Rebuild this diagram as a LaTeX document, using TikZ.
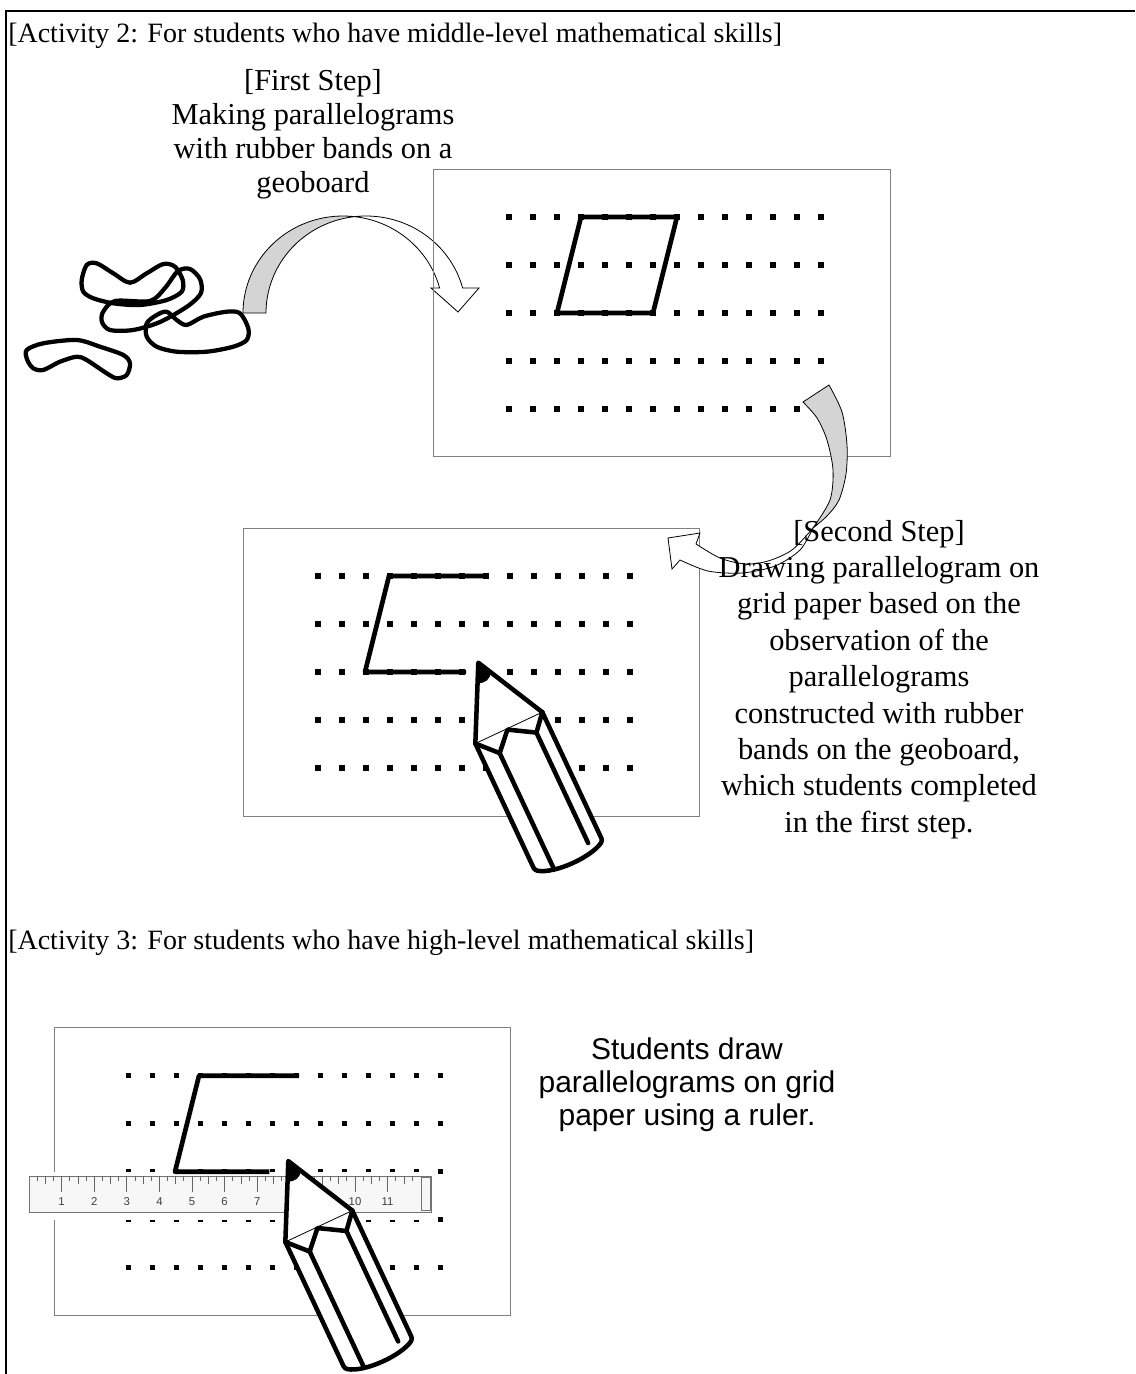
\documentclass[tikz,border=0pt]{standalone}
\usepackage{fontspec}
\setmainfont{Liberation Serif}
\newfontfamily\arialfont{Liberation Sans}
\newcommand\pencilat[3]{%
\begin{scope}[shift={(#1,#2)}, x={(0.318pt,-0.67875pt)}, y={(0.67875pt,0.318pt)}]
  \fill[white] (0,0) -- (72,37) -- (214,37) .. controls (224,20) and (224,-20) .. (212,-37) -- (72,-37) -- cycle;
  \draw[line width=0.6pt] (72,-37) -- (72,37);
  \draw[pthick] (72,-37) -- (0,0) -- (72,37);
  \fill (0,0) -- (18,-9.25) .. controls (22,-3) and (20,4) .. (14,7.2) -- cycle;
  \draw[pthick] (72,-37) -- (91,-19) -- (73,-2) -- (88,23) -- (72,37);
  \draw[pthick, rounded corners=2pt] (72,-37) -- (212,-37) .. controls (224,-20) and (224,20) .. (214,37) -- (72,37);
  \draw[pthick] (91,-19) -- (219,-19);
  \draw[pthick] (88,23) -- (210,23);
  \coordinate (#3) at (0,0);
\end{scope}}
\newcommand\dotgrid[2]{%
  \foreach \i in {0,...,13} \foreach \j in {0,...,4}
    \fill ({#1+24*\i-2.75},{#2+48*\j-2.75}) rectangle +(5.5,5.5);}
\begin{document}
\begin{tikzpicture}[x=0.75pt,y=-0.75pt,
  board/.style={draw=black!50, line width=1pt},
  band/.style={line width=3.2pt, line join=round},
  pthick/.style={line width=3.4pt, line join=round, line cap=round},
  drawn/.style={line width=3.5pt, line join=round},
  arrowback/.style={fill=black!17, draw=black, line width=0.6pt},
  arrowfront/.style={fill=white, draw=black, line width=0.6pt},
  htxt/.style={font=\fontsize{21}{25}\selectfont, inner sep=0pt},
  txt/.style={font=\fontsize{22.8}{26}\selectfont, inner sep=0pt},
  stxt/.style={font=\arialfont\fontsize{22.5}{26}\selectfont, inner sep=0pt},
  rnum/.style={font=\arialfont\fontsize{8.5}{9}\selectfont, inner sep=0pt, text=black!75},
]
\useasboundingbox (0,0) rectangle (1135,1374);
% frame
\draw[line width=2pt] (6,1374) -- (6,11) -- (1135,11);

% rubber bands
\draw[band] plot[smooth cycle] coordinates {(81.7,280) (86.7,265) (96.7,263.3) (113.3,273.3) (130,282.7) (146.7,273.3) (163.3,264) (175,266.7) (182.7,280) (181.7,291.7) (166.7,300) (140,305) (113.3,303.3) (93.3,298.3) (83.3,291.7)};
\draw[band] plot[smooth cycle] coordinates {(103,312) (115,301) (150,301) (165,288) (178,271) (190,269) (200,279) (201,293) (188,306) (160,322) (133,330) (110,330) (102,322)};
\draw[band] plot[smooth cycle] coordinates {(146.7,323.3) (156.7,315) (166.7,311.7) (176.7,320) (186.7,325) (203.3,316.7) (226.7,311.7) (240,313.3) (248.3,328.3) (246.7,340) (233.3,346.7) (206.7,351.7) (176.7,351.7) (156.7,346.7) (146.7,336.7)};
\draw[band] plot[smooth cycle] coordinates {(26.7,350) (43.3,343.3) (76.7,340) (100,346.7) (123.3,355) (130,363.3) (126.7,375) (116.7,378.3) (106.7,373.3) (86.7,360) (76.7,356.7) (60,361.7) (43.3,370) (33.3,368.3) (27.3,360)};

% arrow 1
\filldraw[arrowback] plot[domain=180:83.4, samples=40] ({343+100*cos(\x)},{313-97*sin(\x)})
  -- plot[domain=96.6:180, samples=40] ({366+100*cos(\x)},{313-97*sin(\x)}) -- cycle;
\filldraw[arrowfront] plot[domain=96.6:14.9, samples=40] ({366+100*cos(\x)},{313-97*sin(\x)})
  -- (479,288) -- (458,312) -- (431,288)
  -- plot[domain=14.9:83.4, samples=40] ({343+100*cos(\x)},{313-97*sin(\x)}) -- cycle;

% geoboard 1
\node[board, draw, minimum width=457*0.75pt, minimum height=287*0.75pt, anchor=north west, inner sep=0pt] (g1) at (433,169) {};
\dotgrid{509}{217}
\draw[drawn] (581,217) -- (677,217) -- (653,313) -- (557,313) -- cycle;

% geoboard 2
\node[board, draw, fill=white, minimum width=456*0.75pt, minimum height=288*0.75pt, anchor=north west, inner sep=0pt] (g2) at (243,528) {};
\dotgrid{318}{576}
\draw[drawn] (488,576) -- (389,576) -- (365,672) -- (466,672);
\pencilat{478.3}{662.7}{p1}

% arrow 2
\filldraw[arrowback] plot[smooth] coordinates {(803,402) (817,418) (827,440) (833,470) (830,500) (813,528)}
  -- plot[smooth] coordinates {(813,528) (827,516) (839,500) (846,474) (847,445) (842,412) (829,385)} -- cycle;
\filldraw[arrowfront] plot[smooth] coordinates {(813,528) (792,550) (768,561) (745,564) (720,558) (696,544)}
  -- (700,533) -- (668,538) -- (672,569) -- (680,560)
  -- plot[smooth] coordinates {(680,560) (708,571) (742,573) (775,566) (800,550) (813,528)} -- cycle;

% geoboard 3
\node[board, draw, minimum width=456*0.75pt, minimum height=288*0.75pt, anchor=north west, inner sep=0pt] (g3) at (54,1027) {};
\dotgrid{128.3}{1075.7}
% ruler
\fill[white] (24,1172) rectangle (433,1219.5);
\node[draw=black!55, fill=black!3, line width=0.8pt, minimum width=402*0.75pt, minimum height=36*0.75pt, anchor=north west, inner sep=0pt] (ruler) at (29,1176) {};
\draw[black!55, line width=0.7pt] (421,1177.5) rectangle (430,1210.5);
\foreach \i in {1,...,47} {
  \pgfmathsetmacro\len{ifthenelse(mod(\i,4)==0,16,ifthenelse(mod(\i,2)==0,8,5))}
  \draw[black!60, line width=0.6pt] ({29+\i*8.15},1176) -- ++(0,\len);
}
\foreach \k in {1,...,11} \node[rnum, anchor=base] (rn\k) at ({29+\k*32.6},1205) {\k};
\draw[drawn] (299,1075.7) -- (199,1075.7) -- (175,1171.7) -- (269.3,1171.7);
\pencilat{288.3}{1161.1}{p2}

% texts
\node[htxt, anchor=base west] (h2) at (8,42) {[Activity 2: For students who have middle-level mathematical skills]};
\node[txt, anchor=base] (f1) at (313,90.5) {[First Step]};
\node[txt, anchor=base] (f2) at (313,124.5) {Making parallelograms};
\node[txt, anchor=base] (f3) at (313,158.5) {with rubber bands on a};
\node[txt, anchor=base] (f4) at (313,192.5) {geoboard};

\node[txt, anchor=base] (s1) at (879,541) {[Second Step]};
\node[txt, anchor=base] (s2) at (879,577.4) {Drawing parallelogram on};
\node[txt, anchor=base] (s3) at (879,613.8) {grid paper based on the};
\node[txt, anchor=base] (s4) at (879,650.2) {observation of the};
\node[txt, anchor=base] (s5) at (879,686.6) {parallelograms};
\node[txt, anchor=base] (s6) at (879,723) {constructed with rubber};
\node[txt, anchor=base] (s7) at (879,759.4) {bands on the geoboard,};
\node[txt, anchor=base] (s8) at (879,795.8) {which students completed};
\node[txt, anchor=base] (s9) at (879,832.2) {in the first step.};

\node[htxt, anchor=base west] (h3) at (8,949) {[Activity 3: For students who have high-level mathematical skills]};
\node[stxt, anchor=base] (t1) at (687,1059) {Students draw};
\node[stxt, anchor=base] (t2) at (687,1092) {parallelograms on grid};
\node[stxt, anchor=base] (t3) at (687,1125) {paper using a ruler.};
\end{tikzpicture}
\end{document}
